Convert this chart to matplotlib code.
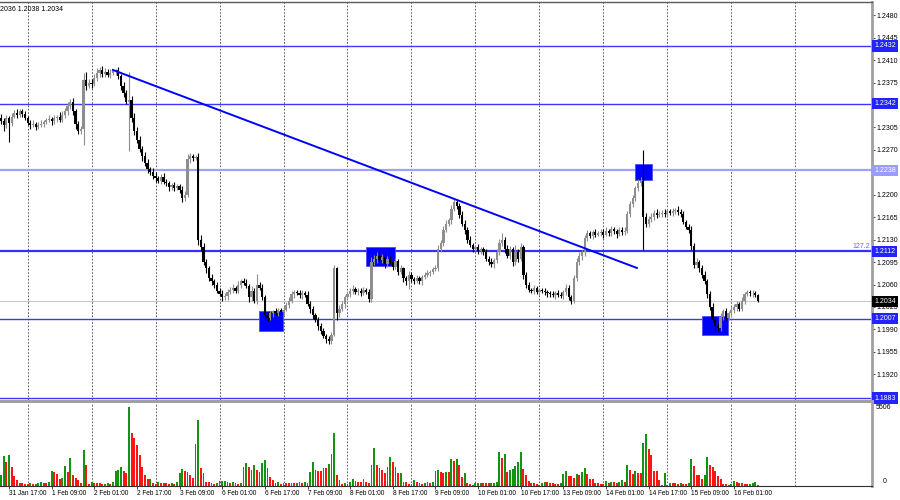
import numpy as np
import matplotlib.pyplot as plt
from matplotlib.patches import Rectangle

plt.rcParams['font.family'] = ['Liberation Sans', 'DejaVu Sans']

# GBPUSD H1, one entry per hourly bar: 31 Jan 14:00 .. 16 Feb 10:00 (server time)
# closes in pips above 1.1900
close_pips = [
    415, 408, 420, 412, 422, 428, 425, 430, 426, 420,
    412, 408, 410, 406, 409, 411, 414, 416, 418, 415, 419, 421, 417,
    425, 430, 438, 445, 430, 410, 400, 403, 479, 470, 475, 472, 482,
    490, 495, 488, 492, 487, 490, 493, 494, 485, 470, 458, 445, 448,
    420, 400, 385, 372, 360, 350, 340, 335, 330, 326, 322, 328, 320,
    318, 312, 315, 310, 313, 308, 295, 300, 355, 360, 358, 359, 230,
    218, 195, 185, 170, 165, 160, 150, 145, 140, 142, 148, 152, 155, 150,
    160, 165, 163, 158, 140, 150, 135, 160, 155, 140, 112, 108, 115,
    118, 115, 120, 117, 121, 128, 135, 145, 148, 146, 143, 147, 144,
    130, 122, 112, 105, 95, 88, 80, 75, 72, 82, 185, 115, 122, 130,
    140, 145, 150, 153, 148, 150, 147, 151, 149, 138, 195, 200,
    205, 198, 203, 192, 200, 195, 188, 196, 180, 185, 170, 165, 175,
    168, 166, 170, 165, 172, 175, 178, 180, 184, 186, 215, 225,
    245, 255, 260, 278, 288, 283, 268, 255, 245, 230, 222, 215, 218,
    212, 215, 210, 200, 195, 192, 198, 210, 225, 230, 215,
    205, 215, 195, 210, 200, 218, 175, 160,
    152, 150, 154, 149, 151, 150, 148, 146, 145, 143, 147, 144, 142, 148,
    155, 140, 135, 170, 195, 205, 210, 232, 240, 236, 242, 238, 240,
    242, 238, 244, 240, 246, 243, 239, 245, 242, 244, 270, 285,
    295, 310, 318, 322, 265, 255, 262, 265, 272, 268, 270,
    272, 270, 274, 271, 275, 276, 273, 270, 258, 250, 245, 220, 190,
    195, 185, 175, 165, 145, 125, 105, 95, 92, 110, 118, 108, 115, 120,
    125, 130, 122, 135, 145, 148, 146, 147, 143, 134,
]
first_open_pips = 420

# wick lengths beyond the body, pips
wick_up = [
    6, 4, 5, 3, 5, 4, 6, 3, 4, 5, 3, 4, 6, 3, 4,
    5, 3, 4, 6, 4, 5, 3, 8, 6, 5, 7, 4, 6, 3, 5,
    4, 11, 12, 6, 5, 7, 8, 4, 6, 5, 4, 6, 3, 2, 5,
    4, 6, 5, 44, 6, 8, 5, 7, 4, 6, 5, 4, 6, 5, 3,
    4, 6, 5, 3, 4, 5, 4, 3, 5, 6, 8, 5, 4, 3, 6,
    8, 6, 5, 4, 6, 3, 4, 5, 6, 4, 5, 4, 6, 3, 5,
    4, 5, 6, 3, 7, 5, 16, 4, 6, 3, 5, 4, 3, 5, 4,
    3, 5, 4, 6, 5, 4, 3, 5, 4, 3, 6, 4, 5, 3, 4,
    5, 4, 3, 5, 4, 5, 3, 6, 5, 4, 5, 4, 6, 3, 5,
    4, 5, 3, 4, 8, 6, 5, 7, 4, 6, 5, 4, 6, 5, 4,
    5, 3, 4, 6, 4, 3, 5, 4, 3, 5, 4, 3, 4, 5, 6,
    5, 6, 5, 4, 6, 6, 5, 4, 6, 5, 4, 5, 3, 4, 5,
    4, 3, 5, 4, 6, 3, 5, 6, 10, 4, 6, 5, 4, 12, 5,
    6, 4, 5, 4, 3, 5, 4, 3, 4, 5, 3, 4, 5, 3, 4,
    5, 4, 6, 4, 3, 5, 6, 5, 4, 6, 5, 4, 3, 5, 4,
    5, 4, 6, 3, 5, 4, 3, 5, 4, 6, 5, 6, 5, 4, 6,
    6, 48, 6, 5, 7, 4, 6, 5, 4, 5, 3, 4, 5, 4, 6,
    4, 5, 3, 4, 6, 5, 6, 4, 5, 6, 4, 5, 6, 4, 5,
    6, 4, 5, 3, 6, 5, 4, 3, 5, 4, 3, 4, 5, 3, 2,
]
wick_dn = [
    5, 8, 4, 30, 5, 3, 6, 4, 5, 3, 4, 6, 3, 5, 4,
    3, 5, 4, 3, 6, 4, 5, 3, 4, 5, 6, 4, 5, 8, 6,
    5, 25, 6, 4, 5, 3, 4, 6, 5, 4, 3, 5, 4, 6, 5,
    6, 5, 4, 77, 6, 7, 5, 6, 8, 5, 6, 4, 5, 6, 4,
    5, 3, 4, 6, 5, 4, 3, 5, 7, 5, 4, 6, 5, 4, 8,
    6, 5, 7, 4, 5, 6, 4, 3, 5, 4, 6, 3, 5, 4, 3,
    5, 4, 3, 8, 6, 4, 5, 3, 4, 8, 5, 4, 6, 3, 4,
    5, 4, 3, 5, 4, 6, 3, 4, 5, 3, 4, 6, 5, 4, 6,
    5, 4, 6, 5, 4, 3, 10, 5, 4, 6, 3, 4, 5, 3, 4,
    5, 3, 4, 6, 5, 4, 6, 5, 4, 6, 5, 3, 6, 4, 5,
    4, 6, 5, 12, 4, 5, 3, 4, 5, 4, 3, 5, 4, 3, 5,
    4, 5, 3, 4, 5, 4, 6, 5, 4, 6, 5, 4, 5, 3, 4,
    5, 4, 3, 5, 4, 6, 5, 4, 5, 6, 4, 5, 6, 4, 5,
    4, 6, 5, 4, 3, 5, 4, 5, 3, 4, 5, 4, 3, 5, 4,
    3, 4, 5, 4, 5, 4, 5, 4, 6, 5, 4, 3, 5, 4, 3,
    4, 5, 3, 4, 5, 4, 6, 3, 4, 5, 4, 5, 4, 5, 4,
    5, 51, 5, 6, 4, 5, 4, 3, 5, 4, 5, 3, 4, 5, 4,
    5, 3, 4, 5, 6, 5, 4, 6, 5, 4, 6, 5, 4, 6, 5,
    4, 5, 3, 4, 5, 4, 6, 3, 4, 5, 3, 4, 5, 3, 2,
]

# tick volume per bar
volume = [
    770, 2070, 1650, 2200, 1360, 730, 420, 230, 230, 140,
    110, 190, 160, 170, 210, 250, 220, 200,
    250, 1080, 1010, 830, 500, 560, 1410, 950, 1930, 800, 560, 420, 200, 2500, 1500, 130,
    250, 240, 230, 180, 150, 170, 220, 160, 300,
    1080, 1150, 1360, 1080, 900, 5506, 3740, 3360, 2840, 2140, 1360, 800, 500, 520, 200,
    130, 250, 210, 200, 180, 170, 190, 160, 250,
    900, 1220, 1060, 950, 780, 550, 2950, 4600, 1250, 900, 300, 260, 200, 150, 180,
    350, 360, 380, 250, 200, 250, 190, 160, 200,
    1300, 1600, 1300, 1150, 1480, 1150, 960, 1600, 1790, 1290, 660, 420, 210, 300, 120,
    220, 200, 190, 230, 180, 200, 260, 220, 250, 200,
    990, 1690, 1150, 1030, 1030, 1270, 1250, 1550, 2250, 3700, 800, 420, 140, 210,
    140, 300, 490, 350, 280, 250, 480, 300, 200,
    1460, 2680, 1500, 1250, 1150, 920, 1320, 2040, 1690, 1320, 920, 940, 300, 260, 140,
    140, 420, 300, 210, 140, 210, 260, 230, 280, 1030, 1130, 960, 920, 1010, 960,
    1900, 1740, 1900, 1460, 660, 920, 240, 140, 100,
    180, 200, 210, 200, 190, 180, 200, 210,
    250, 2350, 1950, 2210, 1010, 1150, 1220, 1390, 1650, 2350, 1200, 780, 380, 210, 190, 120,
    80, 210, 300, 260, 240, 190, 170, 140, 210, 870, 1030, 730, 680, 590, 820, 780,
    1010, 1250, 850, 520, 500, 210, 210, 120,
    120, 380, 210, 300, 260, 180, 260, 450, 300, 1460, 1150, 820, 1060, 920, 900, 3000,
    3620, 2590, 2140, 1080, 1030, 420, 100, 940,
    70, 210, 210, 190, 160, 180, 150, 140, 210, 1900, 1410, 800, 780, 490, 800, 2020,
    1500, 1320, 1080, 730, 490, 140, 120, 70,
    120, 330, 260, 230, 200, 150, 120, 160, 210, 300, 80,
]

date_labels = ['31 Jan 17:00', '1 Feb 09:00', '2 Feb 01:00', '2 Feb 17:00', '3 Feb 09:00',
               '6 Feb 01:00', '6 Feb 17:00', '7 Feb 09:00', '8 Feb 01:00', '8 Feb 17:00',
               '9 Feb 09:00', '10 Feb 01:00', '10 Feb 17:00', '13 Feb 09:00', '14 Feb 01:00',
               '14 Feb 17:00', '15 Feb 09:00', '16 Feb 01:00']
date_label_bars = list(range(3, 276, 16))
day_start_bars = list(range(10, 300, 24))

# scale ticks; the ones under the level boxes carry no text
price_ticks = [1.2480, 1.2445, 1.2410, 1.2375, 1.2340, 1.2305, 1.2270, 1.2235, 1.2200,
               1.2165, 1.2130, 1.2095, 1.2060, 1.2025, 1.1990, 1.1955, 1.1920, 1.1885]
hidden_ticks = [1.2340, 1.2235, 1.1885]
levels = [1.2432, 1.2342, 1.2238, 1.2112, 1.2007, 1.1883]
current_price = 1.2034
trend_bars = [42.0, 238.6]
trend_prices = [1.23946, 1.20858]
# marked zones: bar from/to, price low/high
zone_bars = [(96.8, 105.8), (137.0, 147.8), (237.9, 244.3), (263.0, 272.8)]
zone_prices = [(1.19875, 1.20187), (1.20889, 1.21185), (1.22230, 1.22480), (1.19813, 1.20109)]
header = '2036 1.2038 1.2034'

# ---- build candles ----
c = 1.19 + np.array(close_pips) / 10000
o = 1.19 + np.array([first_open_pips] + close_pips[:-1]) / 10000
hi = np.maximum(o, c) + np.array(wick_up) / 10000
lo = np.minimum(o, c) - np.array(wick_dn) / 10000
idx = np.arange(len(c))
bull = c >= o
cc = np.where(bull, '#8e8e8e', '#000000')

vol = np.array(volume)
vol_up = np.r_[True, vol[1:] > vol[:-1]]
vc = np.where(vol_up, '#129412', '#ff1414')

fig = plt.figure(figsize=(9, 5), dpi=100)
ax = fig.add_axes([0, 0.2, 872 / 900, 0.796])
axv = fig.add_axes([0, 0.028, 872 / 900, 0.166], sharex=ax)

ax.set_xlim(-0.375, 326.8)
ax.set_ylim(1.18799, 1.25006)

for b in day_start_bars:
    ax.axvline(b, color='#404040', lw=0.6, ls=(0, (2, 2)), zorder=0)
    axv.axvline(b, color='#404040', lw=0.6, ls=(0, (2, 2)), zorder=0)

# levels
level_style = {1.2432: ('#3a3aff', 1.0), 1.2342: ('#3a3aff', 1.0), 1.2238: ('#a0a0ff', 1.6),
               1.2112: ('#3030ff', 1.6), 1.2007: ('#3a3aff', 1.0), 1.1883: ('#3a3aff', 1.0)}
for p in levels:
    col, lw = level_style[p]
    ax.axhline(p, color=col, lw=lw, zorder=1)
ax.axhline(current_price, color='#c8c8c8', lw=0.8, zorder=1)

for (b0, b1), (p0, p1) in zip(zone_bars, zone_prices):
    ax.add_patch(Rectangle((b0, p0), b1 - b0, p1 - p0, fc='#0000ff', ec='#4d4dff', lw=0.6, zorder=2))

ax.vlines(idx, lo, hi, colors=cc, lw=0.8, zorder=3)
ax.bar(idx, np.maximum(np.abs(c - o), 0.00014), bottom=np.minimum(o, c), width=0.85,
       color=cc, linewidth=0, zorder=3)

ax.plot(trend_bars, trend_prices, color='#0000ff', lw=1.4, zorder=4)

# price axis
ax.yaxis.tick_right()
ax.set_yticks(price_ticks)
ax.set_yticklabels(['' if p in hidden_ticks else f'{p:.4f}' for p in price_ticks])
ax.tick_params(axis='y', length=2, width=0.5, labelsize=5, pad=1.5)
ax.tick_params(axis='x', bottom=False, labelbottom=False)
for s in ['left', 'bottom']:
    ax.spines[s].set_visible(False)
ax.spines['top'].set_color('#5a5a5a')
ax.spines['top'].set_linewidth(1.0)
ax.spines['right'].set_color('#a0a0a0')
ax.spines['right'].set_linewidth(2.0)

label_bg = {1.2432: '#2323ff', 1.2342: '#2323ff', 1.2238: '#9c9cff', 1.2112: '#2323ff',
            1.2007: '#2323ff', 1.1883: '#2323ff'}
for p in levels:
    ax.annotate(f'{p:.4f}', xy=(1.0, p), xycoords=('axes fraction', 'data'),
                xytext=(1.6, 0), textcoords='offset points', ha='left', va='center',
                fontsize=5, color='white', zorder=10, annotation_clip=False,
                bbox=dict(boxstyle='square,pad=0.3', fc=label_bg[p], ec='none'))
ax.annotate(f'{current_price:.4f}', xy=(1.0, current_price), xycoords=('axes fraction', 'data'),
            xytext=(1.6, 0), textcoords='offset points', ha='left', va='center',
            fontsize=5, color='white', zorder=10, annotation_clip=False,
            bbox=dict(boxstyle='square,pad=0.3', fc='black', ec='none'))
ax.annotate('127.2', xy=(1.0, 1.2112), xycoords=('axes fraction', 'data'),
            xytext=(-1, 0.5), textcoords='offset points', ha='right', va='bottom',
            fontsize=5, color='#6a6aff', zorder=10)

ax.text(0.0, 0.99, header, transform=ax.transAxes, fontsize=5, ha='left', va='top')

# volumes
axv.bar(idx, vol, width=0.7, color=vc, linewidth=0)
axv.set_ylim(0, 5506 * 1.055)
axv.set_yticks([])
axv.text(1.004, 0.94, '5506', transform=axv.transAxes, fontsize=5, ha='left', va='center')
axv.text(1.012, 0.05, '0', transform=axv.transAxes, fontsize=5, ha='left', va='center')
axv.set_xticks(date_label_bars)
axv.set_xticklabels(date_labels, ha='left')
axv.tick_params(axis='x', length=2, width=0.5, labelsize=4.7, pad=1)
for s in ['left', 'top']:
    axv.spines[s].set_visible(False)
axv.spines['bottom'].set_color('#303030')
axv.spines['bottom'].set_linewidth(0.8)
axv.spines['right'].set_color('#a0a0a0')
axv.spines['right'].set_linewidth(2.0)

# separator between the two panels
fig.patches.append(Rectangle((0, 0.194), 874 / 900, 0.006, transform=fig.transFigure,
                             fc='#a0a0a0', ec='none'))

fig.savefig('out.png', dpi=100)
